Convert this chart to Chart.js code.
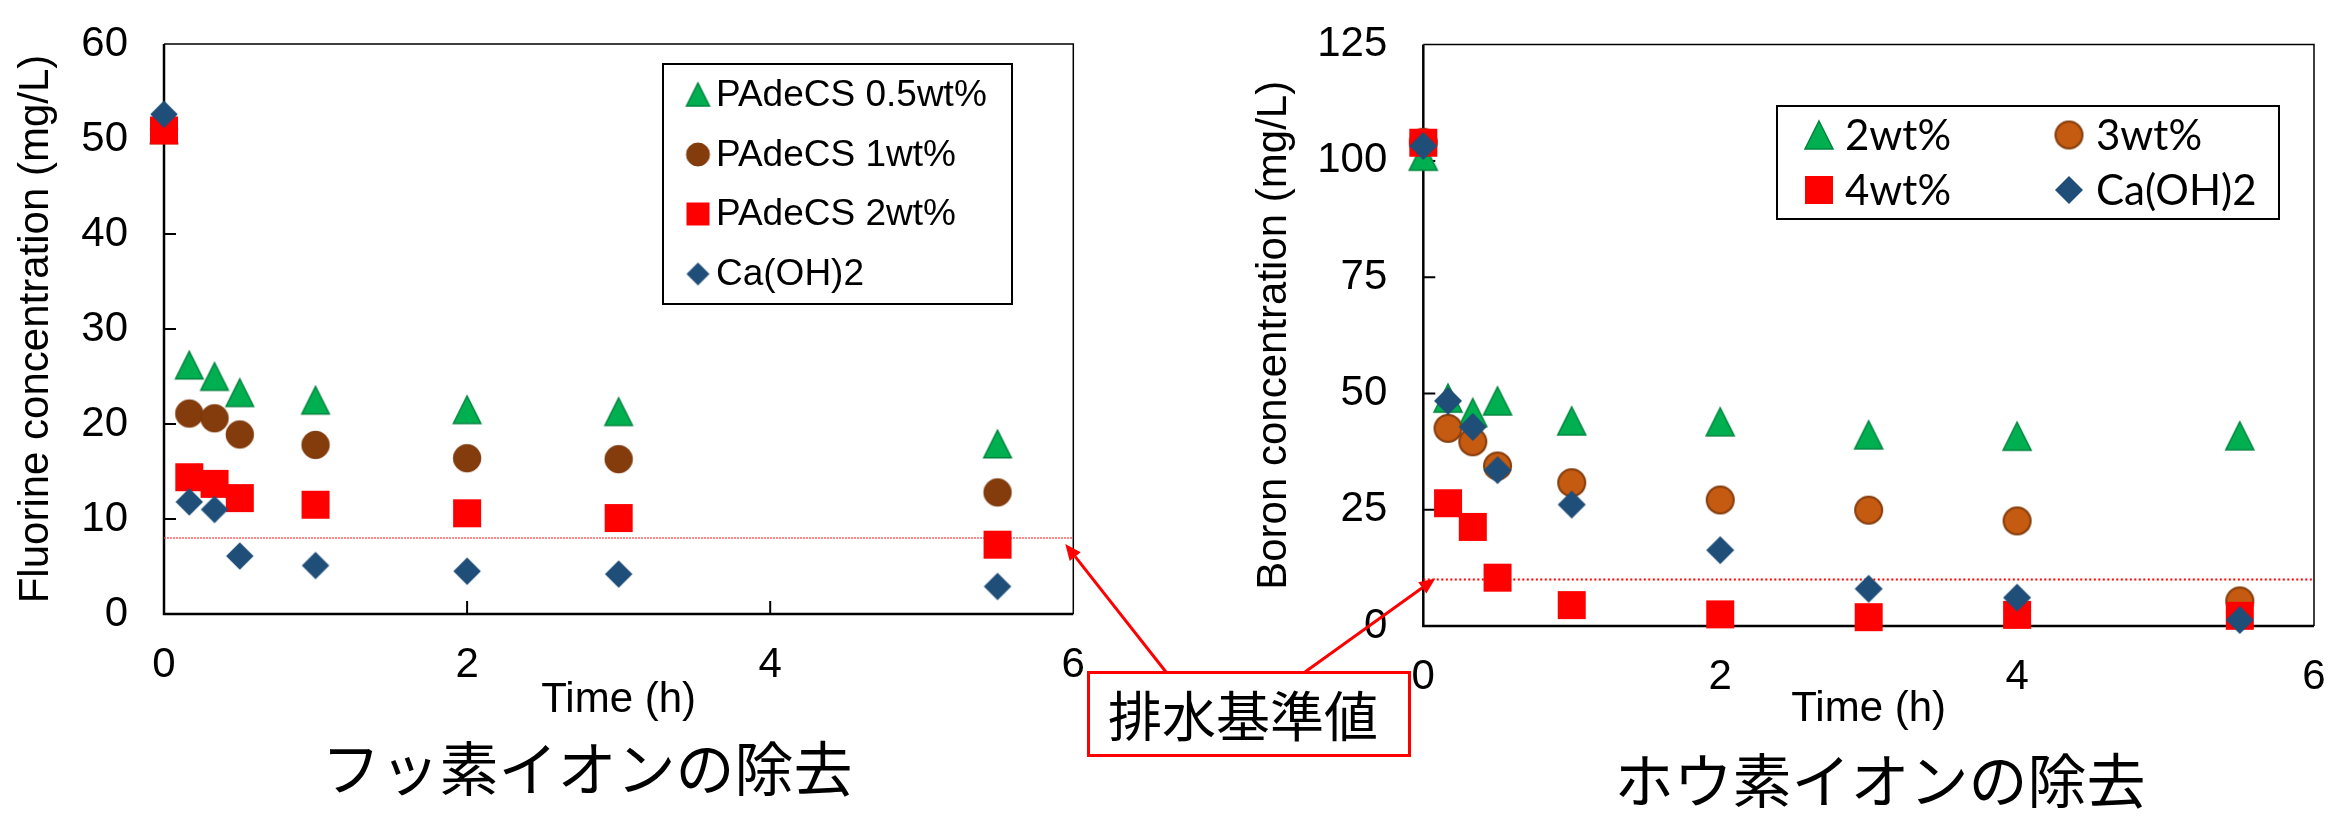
<!DOCTYPE html>
<html><head><meta charset="utf-8">
<script src="https://cdn.jsdelivr.net/npm/chart.js@4.4.1/dist/chart.umd.min.js"></script>
<style>
html,body{margin:0;padding:0;background:#fff;width:2329px;height:817px;overflow:hidden}
body{position:relative}
canvas{position:absolute;left:0;top:0}
.jt{position:absolute;font-family:"Noto Sans CJK JP","Noto Sans CJK SC",sans-serif;color:#000;white-space:nowrap;text-align:center}
#box{position:absolute;left:1087px;top:671px;width:324px;height:86px;box-sizing:border-box;border:3.5px solid #FF0000;background:#fff;
 display:flex;align-items:center;justify-content:center;padding-right:12px;font-family:"Noto Sans CJK JP",sans-serif;font-size:54px;color:#000;line-height:1}
</style></head><body>
<canvas id="cL" width="2329" height="817"></canvas>
<canvas id="cR" width="2329" height="817"></canvas>
<div class="jt" style="left:287px;top:736px;width:600px;font-size:59px;line-height:59px;">フッ素イオンの除去</div>
<div class="jt" style="left:1580px;top:748px;width:600px;font-size:59px;line-height:59px;">ホウ素イオンの除去</div>
<div id="box">排水基準値</div>
<canvas id="ov" width="2329" height="817"></canvas>
<script>
// ---------------- data ----------------
const timeF = [0, 1/6, 1/3, 0.5, 1, 2, 3, 5.5];
const fluorPA05 = [51, 26.2, 25.0, 23.3, 22.5, 21.5, 21.3, 17.9];
const fluorPA1  = [51, 21.1, 20.6, 18.9, 17.8, 16.4, 16.3, 12.8];
const fluorPA2  = [50.9, 14.4, 13.7, 12.2, 11.5, 10.6, 10.1, 7.3];
const fluorCa   = [52.6, 11.8, 11.0, 6.1, 5.1, 4.5, 4.2, 2.9];
const fluorLimit = 8;
const fluorLabels = ['PAdeCS 0.5wt%', 'PAdeCS 1wt%', 'PAdeCS 2wt%', 'Ca(OH)2'];

const timeB = [0, 1/6, 1/3, 0.5, 1, 2, 3, 4, 5.5];
const boron2  = [101, 49.0, 45.9, 48.4, 44.1, 43.9, 41.1, 40.8, 40.9];
const boron3  = [104, 42.5, 39.6, 34.4, 30.8, 27.1, 24.9, 22.6, 5.4];
const boron4  = [103.9, 26.4, 21.3, 10.4, 4.5, 2.5, 1.9, 2.4, 2.2];
const boronCa = [103.2, 48.4, 42.8, 33.5, 26.1, 16.3, 8.0, 6.1, 1.3];
const boronLimit = 10;
const boronLabels = ['2wt%', '3wt%', '4wt%', 'Ca(OH)2'];

const xTicks = [0, 2, 4, 6];
const fluorYTicks = [0, 10, 20, 30, 40, 50, 60];
const boronYTicks = [0, 25, 50, 75, 100, 125];

// ---------------- marker images ----------------
function marker(shape, size, fill, stroke, lw) {
  const pad = Math.ceil(lw) + 1;
  const S = Math.ceil(size) + 2 * pad;
  const c = document.createElement('canvas');
  c.width = S; c.height = S;
  const g = c.getContext('2d');
  const m = S / 2, h = size / 2;
  g.fillStyle = fill; g.strokeStyle = stroke; g.lineWidth = lw; g.lineJoin = 'miter';
  g.beginPath();
  if (shape === 'tri') { g.moveTo(m, m - h); g.lineTo(m + h, m + h); g.lineTo(m - h, m + h); g.closePath(); }
  else if (shape === 'circ') { g.arc(m, m, h, 0, Math.PI * 2); }
  else if (shape === 'sq') { g.rect(m - h, m - h, size, size); }
  else if (shape === 'dia') { g.moveTo(m, m - h); g.lineTo(m + h, m); g.lineTo(m, m + h); g.lineTo(m - h, m); g.closePath(); }
  g.fill();
  if (lw > 0) g.stroke();
  return c;
}
const GREEN = '#00B050', GREEN_B = '#00853F', BROWN = '#843C0C', ORANGE = '#C55A11', RED = '#FF0000', BLUE = '#1F4E79';
const mkL = [marker('tri', 27.5, GREEN, GREEN_B, 1.5), marker('circ', 27.5, BROWN, '#7A380B', 1), marker('sq', 28, RED, RED, 0), marker('dia', 27.5, BLUE, BLUE, 0)];
const lgL = [marker('tri', 23, GREEN, GREEN_B, 1.5), marker('circ', 23, BROWN, '#7A380B', 1), marker('sq', 23, RED, RED, 0), marker('dia', 23, BLUE, BLUE, 0)];
const mkR = [marker('tri', 28, GREEN, GREEN_B, 1.5), marker('circ', 27, ORANGE, '#843C0C', 2), marker('sq', 28, RED, RED, 0), marker('dia', 28, BLUE, BLUE, 0)];

// ---------------- plugins ----------------
const FONT = "'Liberation Sans', Arial, sans-serif";
Chart.defaults.font.family = FONT;
Chart.defaults.color = '#000';

const framePlugin = {
  id: 'frame',
  beforeDatasetsDraw(chart) {
    const { ctx, chartArea: a, scales: { x, y } } = chart;
    ctx.save();
    ctx.strokeStyle = '#000';
    ctx.lineWidth = 1.5;
    ctx.beginPath(); ctx.moveTo(a.left, a.top); ctx.lineTo(a.right, a.top); ctx.lineTo(a.right, a.bottom); ctx.stroke();
    ctx.lineWidth = 2.5;
    ctx.beginPath(); ctx.moveTo(a.left, a.top); ctx.lineTo(a.left, a.bottom); ctx.lineTo(a.right, a.bottom); ctx.stroke();
    ctx.lineWidth = 2;
    ctx.beginPath();
    y.ticks.forEach(t => { if (t.value > y.min && t.value < y.max) { const p = y.getPixelForValue(t.value); ctx.moveTo(a.left, p); ctx.lineTo(a.left + 12, p); } });
    x.ticks.forEach(t => { if (t.value > x.min && t.value < x.max) { const p = x.getPixelForValue(t.value); ctx.moveTo(p, a.bottom); ctx.lineTo(p, a.bottom - 13); } });
    ctx.stroke();
    ctx.restore();
  }
};

function legendPlugin(cfg) {
  return {
    id: 'customLegend',
    afterDraw(chart) {
      const ctx = chart.ctx;
      ctx.save();
      ctx.fillStyle = '#fff';
      ctx.fillRect(cfg.box[0], cfg.box[1], cfg.box[2] - cfg.box[0], cfg.box[3] - cfg.box[1]);
      ctx.strokeStyle = '#000'; ctx.lineWidth = 2;
      ctx.strokeRect(cfg.box[0], cfg.box[1], cfg.box[2] - cfg.box[0], cfg.box[3] - cfg.box[1]);
      ctx.font = cfg.font; ctx.textBaseline = 'middle'; ctx.textAlign = 'left'; ctx.fillStyle = '#000';
      chart.data.datasets.filter(d => !d.isLimit).forEach((d, i) => {
        const pos = cfg.pos[i];
        const img = cfg.imgs[i];
        ctx.drawImage(img, pos[0] - img.width / 2, pos[1] - img.height / 2);
        ctx.fillText(d.label, pos[2], pos[1] + cfg.textDy);
      });
      ctx.restore();
    }
  };
}

function pts(xs, ys) { return xs.map((t, i) => ({ x: t, y: ys[i] })); }

function makeChart(id, o) {
  return new Chart(document.getElementById(id), {
    type: 'scatter',
    data: {
      datasets: [
        ...o.series.map((s, i) => ({ label: o.labels[i], data: pts(o.time, s), pointStyle: o.markers[i], pointRadius: 14, order: 4 - i, clip: false })),
        { label: 'limit', isLimit: true, data: [{ x: 0, y: o.limit }, { x: 6, y: o.limit }], showLine: true, pointRadius: 0,
          borderColor: o.limitColor, borderWidth: o.limitWidth, borderDash: o.limitDash, order: 10 }
      ]
    },
    options: {
      responsive: false, animation: false, events: [],
      layout: { padding: o.padding },
      plugins: { legend: { display: false }, tooltip: { enabled: false } },
      scales: {
        x: {
          type: 'linear', min: 0, max: 6,
          afterBuildTicks: s => { s.ticks = xTicks.map(v => ({ value: v })); },
          ticks: { font: { size: 42 }, color: '#000', padding: 26, maxRotation: 0, autoSkip: false },
          grid: { display: false, drawTicks: false }, border: { display: false },
          title: { display: true, text: 'Time (h)', font: { size: 42 }, color: '#000', padding: 0 },
          afterFit: s => { s.height = o.xH; s.paddingLeft = 0; s.paddingRight = 0; }
        },
        y: {
          type: 'linear', min: 0, max: o.yMax,
          afterBuildTicks: s => { s.ticks = o.yTicks.map(v => ({ value: v })); },
          ticks: { font: { size: 42 }, color: '#000', padding: 36, autoSkip: false },
          grid: { display: false, drawTicks: false }, border: { display: false },
          title: { display: true, text: o.yTitle, font: { size: 42 }, color: '#000', padding: 0 },
          afterFit: s => { s.width = o.yW; s.paddingTop = 0; s.paddingBottom = 0; }
        }
      }
    },
    plugins: [framePlugin, legendPlugin(o.legend)]
  });
}

const chartL = makeChart('cL', {
  time: timeF, series: [fluorPA05, fluorPA1, fluorPA2, fluorCa], labels: fluorLabels, markers: mkL,
  limit: fluorLimit, limitColor: 'rgba(255,70,70,0.85)', limitWidth: 1.5, limitDash: [2, 1],
  padding: { left: 11, top: 44, right: 2329 - 1073.3, bottom: 817 - 726 },
  xH: 726 - 614, yW: 164 - 11, yMax: 60, yTicks: fluorYTicks, yTitle: 'Fluorine concentration (mg/L)',
  legend: { box: [663, 64, 1012, 304], font: "37px " + FONT, textDy: 1, imgs: lgL,
    pos: [[698, 94.5, 716], [698, 154.5, 716], [698, 214, 716], [698, 274, 716]] }
});

const chartR = makeChart('cR', {
  time: timeB, series: [boron2, boron3, boron4, boronCa], labels: boronLabels, markers: mkR,
  limit: boronLimit, limitColor: '#FF0000', limitWidth: 2, limitDash: [2, 2.5],
  padding: { left: 1249, top: 44.6, right: 2329 - 2320.7, bottom: 817 - 735 },
  xH: 735 - 626, yW: 1423.3 - 1249, yMax: 125, yTicks: boronYTicks, yTitle: 'Boron concentration (mg/L)',
  legend: { box: [1777, 106, 2279, 219], font: "42px Lato, 'Liberation Sans', sans-serif", textDy: 1, imgs: mkR,
    pos: [[1819, 135, 1845], [2069, 135, 2096], [1819, 190, 1845], [2069, 190, 2096]] }
});

// ---------------- arrows to the limit lines ----------------
function drawArrow(g, x0, y0, x1, y1) {
  const ang = Math.atan2(y1 - y0, x1 - x0), L = 16, W = 7;
  const bx = x1 - L * Math.cos(ang), by = y1 - L * Math.sin(ang);
  g.strokeStyle = '#FF0000'; g.lineWidth = 3;
  g.beginPath(); g.moveTo(x0, y0); g.lineTo(bx, by); g.stroke();
  g.fillStyle = '#FF0000';
  g.beginPath(); g.moveTo(x1, y1);
  g.lineTo(bx + W * Math.sin(ang), by - W * Math.cos(ang));
  g.lineTo(bx - W * Math.sin(ang), by + W * Math.cos(ang));
  g.closePath(); g.fill();
}
const ov = document.getElementById('ov').getContext('2d');
const boxEl = document.getElementById('box');
const bTop = boxEl.offsetTop + 1, bLeft = boxEl.offsetLeft;
drawArrow(ov, bLeft + 79, bTop, chartL.scales.x.getPixelForValue(6) - 8, chartL.scales.y.getPixelForValue(fluorLimit) + 6);
drawArrow(ov, bLeft + 218, bTop, chartR.scales.x.getPixelForValue(0) + 12, chartR.scales.y.getPixelForValue(boronLimit) - 1);
</script>
</body></html>
